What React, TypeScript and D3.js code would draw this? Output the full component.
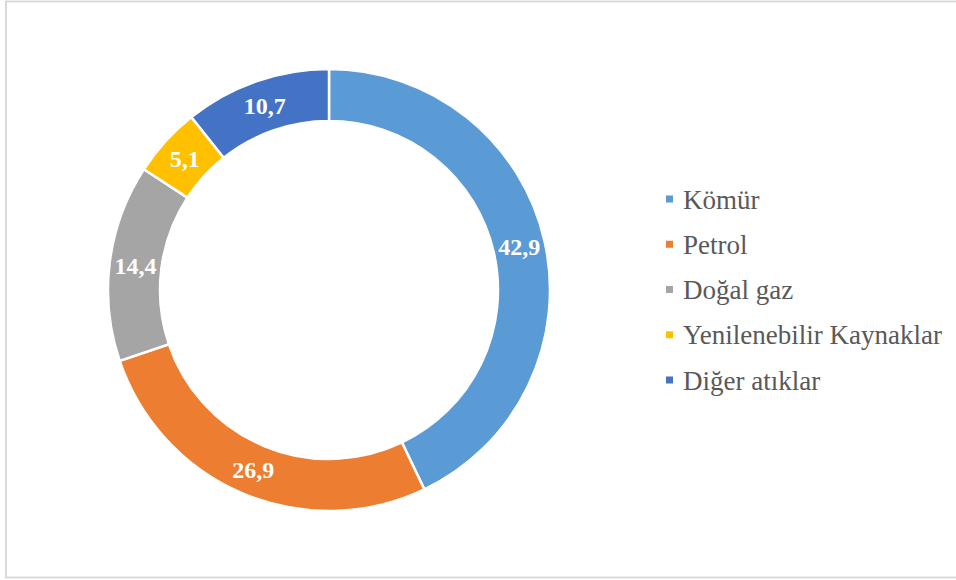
import React from "react";
import * as d3 from "d3";

const categories = ["Kömür", "Petrol", "Doğal gaz", "Yenilenebilir Kaynaklar", "Diğer atıklar"];
const values = [42.9, 26.9, 14.4, 5.1, 10.7];
const colors = ["#5B9BD5", "#ED7D31", "#A5A5A5", "#FFC000", "#4472C4"];

const SERIF = "'Liberation Serif', 'Times New Roman', serif";

export default function App() {
  const W = 956, H = 580;
  const cx = 329, cy = 290;
  const outerR = 221, innerR = 169;
  const pie = d3.pie<number>().sort(null).value((d) => d)(values);
  const arc = d3.arc<d3.PieArcDatum<number>>().innerRadius(innerR).outerRadius(outerR);
  const fmt = (v: number) => v.toFixed(1).replace(".", ",");
  const legendY = d3.scalePoint<string>().domain(categories).range([199, 380]);
  return (
    <svg width={W} height={H} style={{ position: "absolute", left: 0, top: 0, background: "#fff" }}>
      <rect x={6} y={1.5} width={980} height={576} fill="#fff" stroke="#d9d9d9" strokeWidth={2} />
      <g transform={`translate(${cx},${cy})`}>
        {pie.map((p, i) => (
          <path key={i} d={arc(p) || ""} fill={colors[i]} stroke="#fff" strokeWidth={2.5} />
        ))}
        {pie.map((p, i) => {
          const [x, y] = arc.centroid(p);
          return (
            <text key={"t" + i} x={x} y={y} dy="0.35em" textAnchor="middle" fill="#fff"
              style={{ fontFamily: SERIF, fontWeight: "bold", fontSize: 24 }}>
              {fmt(values[i])}
            </text>
          );
        })}
      </g>
      {categories.map((c, i) => {
        const y = legendY(c) as number;
        return (
          <g key={"l" + i}>
            <rect x={666} y={y - 3.5} width={7} height={7} fill={colors[i]} />
            <text x={683} y={y + 9.5} fill="#595959" style={{ fontFamily: SERIF, fontSize: 27 }}>
              {c}
            </text>
          </g>
        );
      })}
    </svg>
  );
}
